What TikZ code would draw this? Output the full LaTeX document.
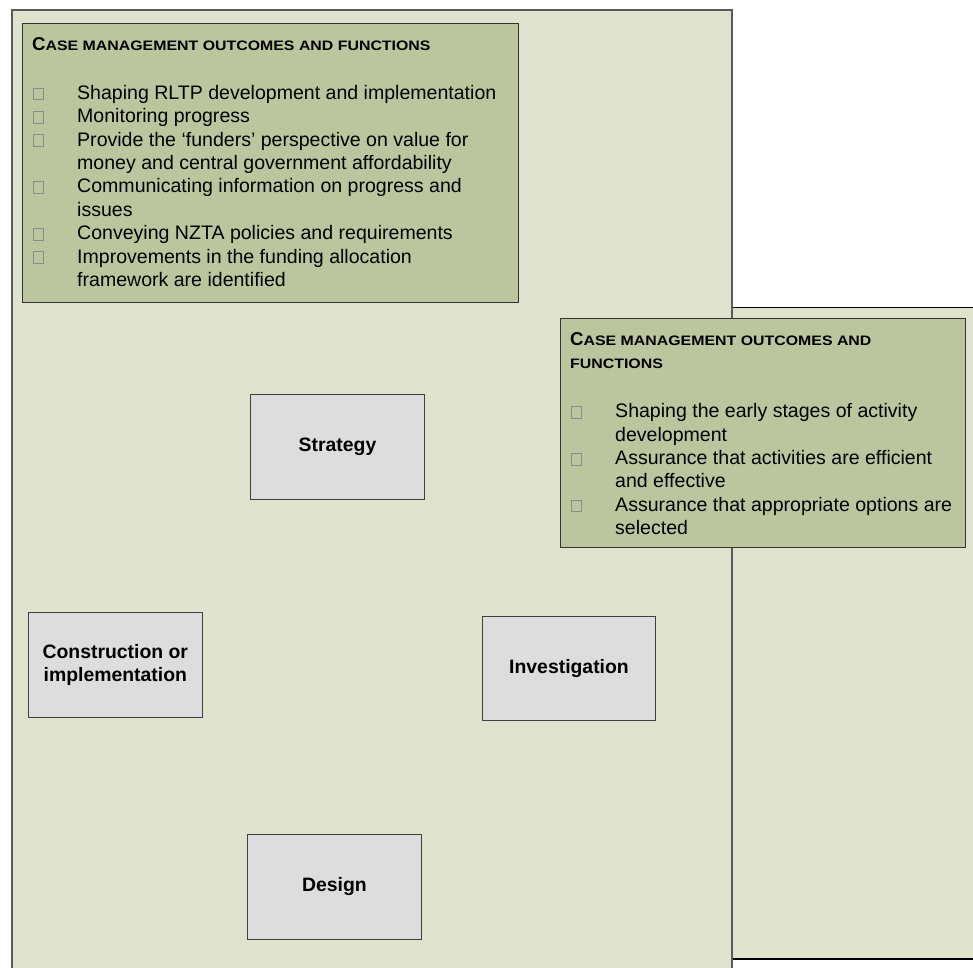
\documentclass[tikz,border=0pt]{standalone}
\usepackage{fontspec}
\setmainfont{Liberation Sans}
\newfontfamily\scfont[FakeStretch=1.16]{Liberation Sans}
\definecolor{panelbg}{HTML}{DFE3CD}
\definecolor{greenbox}{HTML}{BCC69E}
\definecolor{graybox}{HTML}{DDDDDD}
\definecolor{panelline}{HTML}{5A5A5A}
\definecolor{bulgray}{HTML}{8C8C8C}
\newcommand{\sqbul}{{\color{bulgray}\setlength{\fboxrule}{0.7pt}\setlength{\fboxsep}{0pt}\fbox{\rule{0pt}{11pt}\hspace{9pt}}}}
\newcommand{\bul}{\makebox[44pt][l]{\sqbul}}
\newcommand{\hdrtext}[1]{{\bfseries\fontsize{18.6}{22}\selectfont C\scfont\bfseries\fontsize{13.7}{22}\selectfont #1}}
\newcommand{\hdrsmall}[1]{{\scfont\bfseries\fontsize{13.7}{22}\selectfont #1}}
\tikzset{
  greenpanel/.style={draw=black!80, line width=1.2pt, fill=greenbox, anchor=north west, inner sep=0pt},
  stagebox/.style={draw=black!75, line width=1pt, fill=graybox, minimum width=173.5pt, minimum height=104.5pt,
    inner sep=0pt, align=center, font=\bfseries\fontsize{19.4}{23.7}\selectfont},
  txt/.style={anchor=base west, inner sep=0pt}
}
\begin{document}
\begin{tikzpicture}[x=1pt,y=-1pt]
\useasboundingbox (0,0) rectangle (973,967);
% right panel (behind)
\fill[panelbg] (732,307.7) rectangle (990,959);
\draw[black, line width=1.5pt] (732,307.7) -- (990,307.7);
\draw[black, line width=1.5pt] (732,959) -- (990,959);
% left panel
\draw[panelline, line width=2pt, fill=panelbg] (12,10) rectangle (732,1000);
% top-left green box
\node[greenpanel, minimum width=496pt, minimum height=279pt] (g1) at (22,23) {};
\node[txt] (h1) at (32,50.7) {\hdrtext{ASE MANAGEMENT OUTCOMES AND FUNCTIONS}};
\node[txt] (l1) at (33,99.3) {\fontsize{19.55}{23.4}\selectfont
\begin{tabular}[t]{@{}l@{}l@{}}
\bul & Shaping RLTP development and implementation\\
\bul & Monitoring progress\\
\bul & Provide the ‘funders’ perspective on value for\\
 & money and central government affordability\\
\bul & Communicating information on progress and\\
 & issues\\
\bul & Conveying NZTA policies and requirements\\
\bul & Improvements in the funding allocation\\
 & framework are identified
\end{tabular}};
% right green box
\node[greenpanel, minimum width=405pt, minimum height=229pt] (g2) at (560,318) {};
\node[txt] (h2a) at (570,345.7) {\hdrtext{ASE MANAGEMENT OUTCOMES AND}};
\node[txt] (h2b) at (570,368.3) {\hdrsmall{FUNCTIONS}};
\node[txt] (l2) at (571,417.7) {\fontsize{19.55}{23.4}\selectfont
\begin{tabular}[t]{@{}l@{}l@{}}
\bul & Shaping the early stages of activity\\
 & development\\
\bul & Assurance that activities are efficient\\
 & and effective\\
\bul & Assurance that appropriate options are\\
 & selected
\end{tabular}};
% stage boxes
\node[stagebox] (strategy) at (337.5,447) {Strategy};
\node[stagebox] (construction) at (115.3,665) {Construction or\\implementation};
\node[stagebox] (investigation) at (569,668.5) {Investigation};
\node[stagebox] (design) at (334.5,887) {Design};
\end{tikzpicture}
\end{document}
